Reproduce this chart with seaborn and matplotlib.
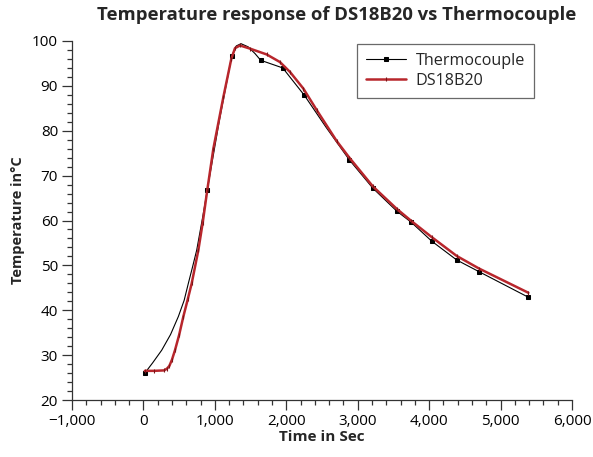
import numpy as np
import pandas as pd
import seaborn as sns
import matplotlib.pyplot as plt
from matplotlib.ticker import MultipleLocator, FuncFormatter

tc_time = [20, 130, 256, 380, 489, 570, 629, 690, 746, 830, 895, 1060, 1236, 1300, 1366,
           1466, 1562, 1642, 1950, 2253, 2560, 2883, 3212, 3546, 3750, 4036, 4386, 4698, 5389]
tc_temp = [26.0, 28.3, 31.1, 34.6, 38.6, 42.2, 46.0, 49.8, 53.4, 60.8, 66.9, 82.0, 96.6,
           98.9, 99.4, 98.7, 97.2, 95.7, 94.0, 87.9, 80.7, 73.5, 67.2, 62.1, 59.6, 55.4,
           51.2, 48.6, 42.9]
tc_marked = [0, 10, 12, 17, 18, 19, 21, 22, 23, 24, 25, 26, 27, 28]

# DS18B20 trace
ds_time = [20, 150, 290, 330, 363, 400, 442, 500, 559, 620, 676, 769, 830, 895, 979, 1119,
           1230, 1282, 1352, 1492, 1726, 1912, 2052, 2239, 2426, 2706, 2883, 3212, 3546,
           3750, 4036, 4386, 4698, 5389]
ds_temp = [26.5, 26.5, 26.6, 27.0, 27.6, 29.0, 31.1, 34.5, 38.6, 42.4, 46.0, 53.4, 59.5,
           66.9, 76.0, 87.5, 96.0, 98.4, 99.0, 98.3, 97.0, 95.3, 93.1, 89.4, 84.6, 77.7,
           74.0, 67.6, 62.6, 59.9, 56.3, 52.1, 49.3, 43.9]

df_tc = pd.DataFrame({"t": tc_time, "T": tc_temp})
df_ds = pd.DataFrame({"t": ds_time, "T": ds_temp})

sns.set_style("ticks")
plt.rcParams["font.family"] = ["Open Sans", "DejaVu Sans"]

fig = plt.figure(figsize=(5.93, 4.57), dpi=100)
ax = fig.add_axes([0.1214, 0.1247, 0.8432, 0.7856])

sns.lineplot(data=df_tc, x="t", y="T", ax=ax, sort=False, color="black", lw=0.8,
             marker="s", markersize=3.2, markevery=tc_marked, mec="black",
             label="Thermocouple")
sns.lineplot(data=df_ds, x="t", y="T", ax=ax, sort=False, color="#b8262c", lw=1.8,
             marker="|", markersize=3, mec="#7a1518", mew=0.8,
             label="DS18B20")

ax.set_xlim(-1000, 6000)
ax.set_ylim(20, 100)
ax.xaxis.set_major_locator(MultipleLocator(1000))
ax.xaxis.set_minor_locator(MultipleLocator(200))
ax.yaxis.set_major_locator(MultipleLocator(10))
ax.yaxis.set_minor_locator(MultipleLocator(2))
ax.xaxis.set_major_formatter(FuncFormatter(lambda v, p: f"{v:,.0f}".replace("-", "\u2212")))
ax.tick_params(which="major", length=7, width=0.9, color="#333333", labelsize=11,
               labelcolor="black", direction="out", pad=3)
ax.tick_params(which="minor", length=3.4, width=0.9, color="#333333", direction="out")
for s in ["top", "right"]:
    ax.spines[s].set_visible(False)
for s in ["left", "bottom"]:
    ax.spines[s].set_linewidth(0.9)
    ax.spines[s].set_color("#333333")

ax.set_xlabel("Time in Sec", fontsize=11, fontweight="bold", labelpad=1)
ax.set_ylabel("Temperature in°C", fontsize=10.5, fontweight="bold", labelpad=5)
fig.text(0.567, 0.967, "Temperature response of DS18B20 vs Thermocouple",
         ha="center", va="center", fontsize=13.3, fontweight="bold")

leg = ax.legend(loc="upper left", bbox_to_anchor=(0.57, 0.992), borderaxespad=0,
                fancybox=False, edgecolor="#444444", fontsize=11.6, handlelength=2.5,
                borderpad=0.55, labelspacing=0.25, handletextpad=0.6)
leg.get_frame().set_linewidth(0.9)

fig.savefig("out.png", dpi=100)
